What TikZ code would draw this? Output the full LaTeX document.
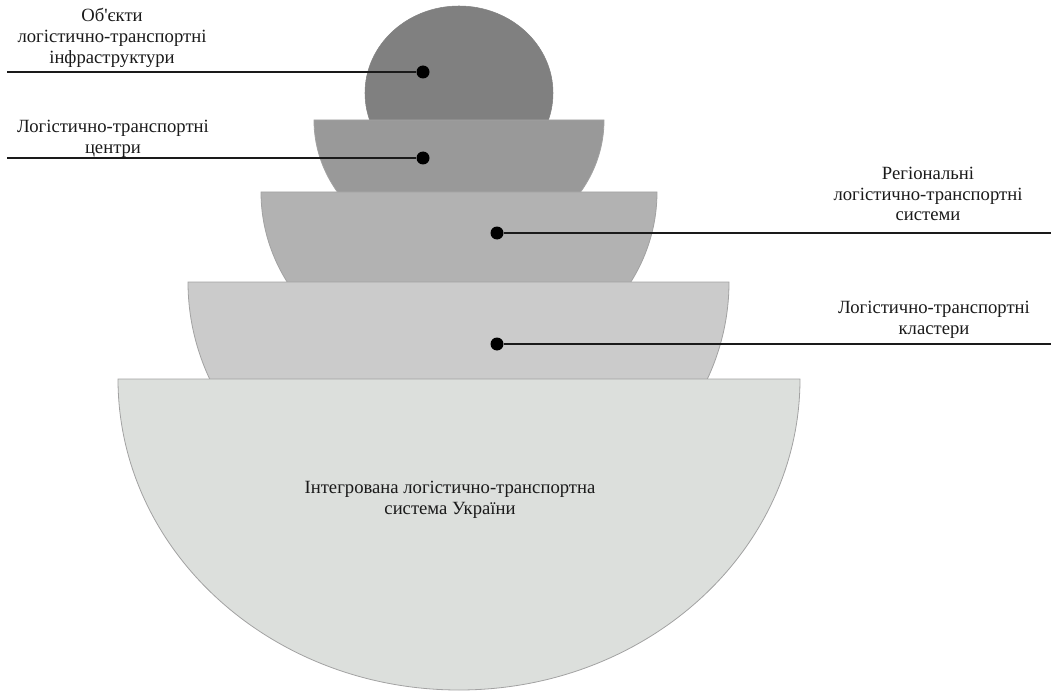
\documentclass[tikz,border=0pt]{standalone}
\usepackage{fontspec}
\setmainfont{Liberation Serif}
\definecolor{tierA}{HTML}{808080}
\definecolor{tierB}{HTML}{999999}
\definecolor{tierC}{HTML}{B2B2B2}
\definecolor{tierD}{HTML}{CBCBCB}
\definecolor{tierE}{HTML}{DCDFDC}
\definecolor{edgegray}{HTML}{A2A2A2}
\definecolor{inkdark}{HTML}{1A1A1A}
\begin{document}
\begin{tikzpicture}[x=0.75pt,y=0.75pt,
  layer/.style={draw=edgegray, line width=0.6pt},
  caption/.style={align=center, font=\fontsize{14}{15.5}\selectfont, text=inkdark, inner sep=0pt},
  pin/.style={circle, fill=black, inner sep=0pt, minimum size=9.75pt},
  leader/.style={line width=1.5pt, draw=inkdark}]
\useasboundingbox (0,0) rectangle (1051,-692);

% stacked levels, from the top sphere down to the widest bowl
\filldraw[fill=tierA, draw=tierA] (459,-93) ellipse [x radius=94, y radius=87];
\filldraw[fill=tierB, layer] (314,-120) arc[start angle=180, end angle=360, x radius=145, y radius=132] -- cycle;
\filldraw[fill=tierC, layer] (261,-192) arc[start angle=180, end angle=360, x radius=198, y radius=181] -- cycle;
\filldraw[fill=tierD, layer] (188,-282) arc[start angle=180, end angle=360, x radius=270.5, y radius=247] -- cycle;
\filldraw[fill=tierE, layer] (118,-379) arc[start angle=180, end angle=360, x radius=341, y radius=311] -- cycle;

% labels
\node[caption] (t1) at (112,-38) {Об\textquotesingle єкти\\логістично-транспортні\\інфраструктури};
\node[caption] (t2) at (113,-138.5) {Логістично-транспортні\\центри};
\node[caption] (t3) at (928,-194) {Регіональні\\логістично-транспортні\\системи};
\node[caption] (t4) at (934,-320) {Логістично-транспортні\\кластери};
\node[caption] (t5) at (450,-500) {Інтегрована логістично-транспортна\\система України};

% markers and leader lines
\node[pin] (d1) at (423,-72) {};
\node[pin] (d2) at (423,-158) {};
\node[pin] (d3) at (497,-233) {};
\node[pin] (d4) at (497,-344) {};
\coordinate (e1) at (7,-72);
\coordinate (e2) at (7,-158);
\coordinate (e3) at (1051,-233);
\coordinate (e4) at (1051,-344);
\draw[leader] (e1) -- (d1);
\draw[leader] (e2) -- (d2);
\draw[leader] (d3) -- (e3);
\draw[leader] (d4) -- (e4);
\end{tikzpicture}
\end{document}
